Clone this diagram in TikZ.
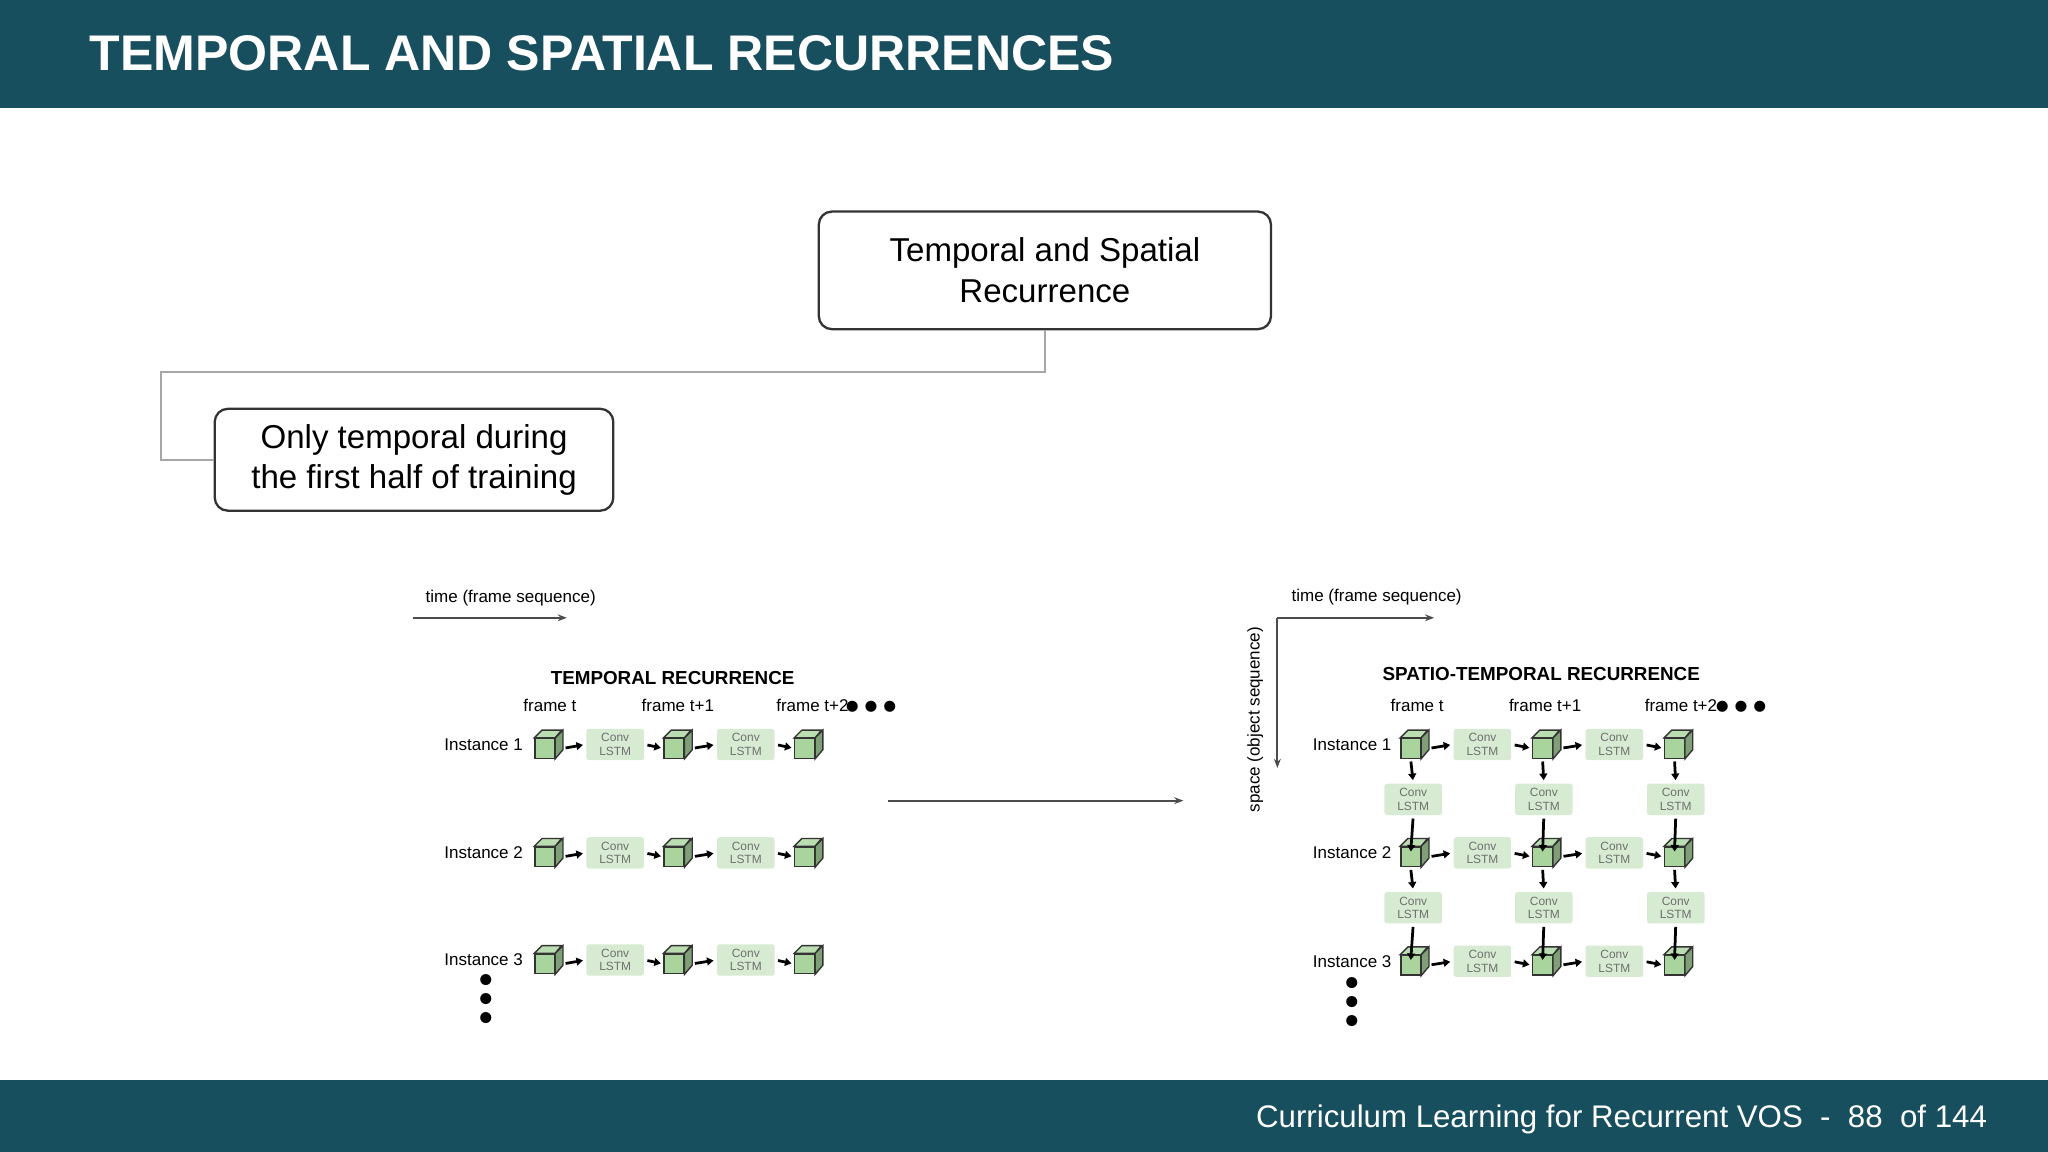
\documentclass[tikz,border=0pt]{standalone}
\usepackage{fontspec}
\setmainfont{Liberation Sans}
\usetikzlibrary{arrows.meta,positioning}
\definecolor{bandteal}{HTML}{174F5E}
\definecolor{cubegreen}{HTML}{A9D49E}
\definecolor{lstmgreen}{HTML}{D6EBD1}
\definecolor{lstmtext}{HTML}{6F6F6F}
\tikzset{
  band/.style={fill=bandteal,draw=none},
  topic/.style={draw=black!80,rounded corners=0.1cm,line width=0.5pt,align=center,font=\fontsize{7.2}{8.8}\selectfont},
  link/.style={draw=black!35,line width=0.5pt},
  cube/.style={draw=black!80,fill=cubegreen,line width=0.3pt,minimum size=0.15cm,inner sep=0pt},
  lstm/.style={fill=lstmgreen,draw=none,rounded corners=0.02cm,minimum width=0.44cm,minimum height=0.24cm,inner sep=0pt,align=center,text=lstmtext,font=\fontsize{2.6}{2.9}\selectfont},
  small/.style={font=\fontsize{3.7}{4.3}\selectfont},
  head/.style={font=\fontsize{4.1}{5}\selectfont\bfseries},
  dots/.style={font=\fontsize{3.5}{3.5}\selectfont,inner sep=0pt},
  push/.style={-{Triangle[length=0.05cm,width=0.06cm]},line width=0.6pt,shorten <=0.02cm,shorten >=0.02cm},
  axis/.style={-{Stealth[length=0.07cm]},draw=black!70,line width=0.4pt}
}
% cube: front face node plus top and side faces
\newcommand{\cubeat}[3]{%
  \node[cube] (#1) at (#2-3,#3+3) {};
  \filldraw[draw=black!80,fill=cubegreen!80!white,line width=0.3pt]
    (#1.north west) -- ++(6,-6) -- ++(15,0) -- (#1.north east) -- cycle;
  \filldraw[draw=black!80,fill=cubegreen!75!black,line width=0.3pt]
    (#1.north east) -- ++(6,-6) -- ++(0,15) -- (#1.south east) -- cycle;}
\begin{document}
\begin{tikzpicture}[x=0.01cm,y=-0.01cm]
\useasboundingbox (0,0) rectangle (1568,882);
% header and footer
\fill[band] (0,0) rectangle (1568,83);
\fill[band] (0,827) rectangle (1568,882);
\node[anchor=west,text=white,font=\fontsize{10.9}{13}\selectfont\bfseries,inner sep=0pt] (title) at (68,41) {TEMPORAL AND SPATIAL RECURRENCES};
\node[anchor=east,text=white,font=\fontsize{6.8}{8}\selectfont,inner sep=0pt] (foot) at (1522,857) {Curriculum Learning for Recurrent VOS\ \ -\ \ 88\ \ of 144};
% topic boxes
\node[topic,minimum width=3.46cm,minimum height=0.9cm] (both) at (800,207) {Temporal and Spatial\\Recurrence};
\node[topic,minimum width=3.05cm,minimum height=0.68cm] (temp) at (317,352) {Only temporal during\\the first half of training};
\draw[link] (both.south) |- (123,285) |- (temp.west);
% left: temporal recurrence
\node[small] (ltime) at (391,458) {time (frame sequence)};
\coordinate (la) at (316,473);
\coordinate (lb) at (434,473);
\draw[axis] (la) -- (lb);
\node[head] (lhead) at (515,519) {TEMPORAL RECURRENCE};
\foreach \x/\t/\n in {421/frame t/1,519/frame t+1/2,622/frame t+2/3}
  \node[small] (lf\n) at (\x,540) {\t};
\node[dots] (ldots) at (667,541) {$\bullet\!\bullet\!\bullet$};
\foreach \r/\y in {1/570,2/653,3/735}{
  \node[small,anchor=east,inner sep=0pt] (li\r) at (401,\y) {Instance \r};
  \cubeat{lc\r a}{420}{\y}
  \node[lstm] (ll\r a) at (471,\y) {Conv\\LSTM};
  \cubeat{lc\r b}{519}{\y}
  \node[lstm] (ll\r b) at (571,\y) {Conv\\LSTM};
  \cubeat{lc\r c}{619}{\y}
  \draw[push] ([xshift=0.06cm]lc\r a.east) -- (ll\r a.west);
  \draw[push] (ll\r a.east) -- (lc\r b.west);
  \draw[push] ([xshift=0.06cm]lc\r b.east) -- (ll\r b.west);
  \draw[push] (ll\r b.east) -- (lc\r c.west);
}
\node[dots,rotate=90] (lvd) at (372,765) {$\bullet\!\bullet\!\bullet$};
% transition arrow
\coordinate (ta) at (680,613);
\coordinate (tb) at (906,613);
\draw[axis] (ta) -- (tb);
% right: spatio-temporal recurrence
\node[small] (rtime) at (1054,457) {time (frame sequence)};
\coordinate (ro) at (978,473);
\coordinate (rx) at (1098,473);
\coordinate (ry) at (978,588);
\draw[axis] (ro) -- (rx);
\draw[axis] (ro) -- (ry);
\node[small,rotate=90] (rspace) at (961,551) {space (object sequence)};
\node[head] (rhead) at (1180,516) {SPATIO-TEMPORAL RECURRENCE};
\foreach \x/\t/\n in {1085/frame t/1,1183/frame t+1/2,1287/frame t+2/3}
  \node[small] (rf\n) at (\x,540) {\t};
\node[dots] (rdots) at (1333,541) {$\bullet\!\bullet\!\bullet$};
\foreach \r/\y in {1/570,2/653,3/736}{
  \node[small,anchor=east,inner sep=0pt] (ri\r) at (1066,\y) {Instance \r};
  \cubeat{rc\r a}{1083}{\y}
  \node[lstm] (rl\r a) at (1135,\y) {Conv\\LSTM};
  \cubeat{rc\r b}{1184}{\y}
  \node[lstm] (rl\r b) at (1236,\y) {Conv\\LSTM};
  \cubeat{rc\r c}{1285}{\y}
  \draw[push] ([xshift=0.06cm]rc\r a.east) -- (rl\r a.west);
  \draw[push] (rl\r a.east) -- (rc\r b.west);
  \draw[push] ([xshift=0.06cm]rc\r b.east) -- (rl\r b.west);
  \draw[push] (rl\r b.east) -- (rc\r c.west);
}
\foreach \r/\s/\y in {1/2/612,2/3/695}
  \foreach \c/\x in {a/1082,b/1182,c/1283}{
    \node[lstm] (rv\r\c) at (\x,\y) {Conv\\LSTM};
    \draw[push] (rc\r\c.south) -- (rv\r\c.north);
    \draw[push] (rv\r\c.south) -- ([yshift=-0.06cm]rc\s\c.north);
  }
\node[dots,rotate=90] (rvd) at (1035,767) {$\bullet\!\bullet\!\bullet$};
\end{tikzpicture}
\end{document}
